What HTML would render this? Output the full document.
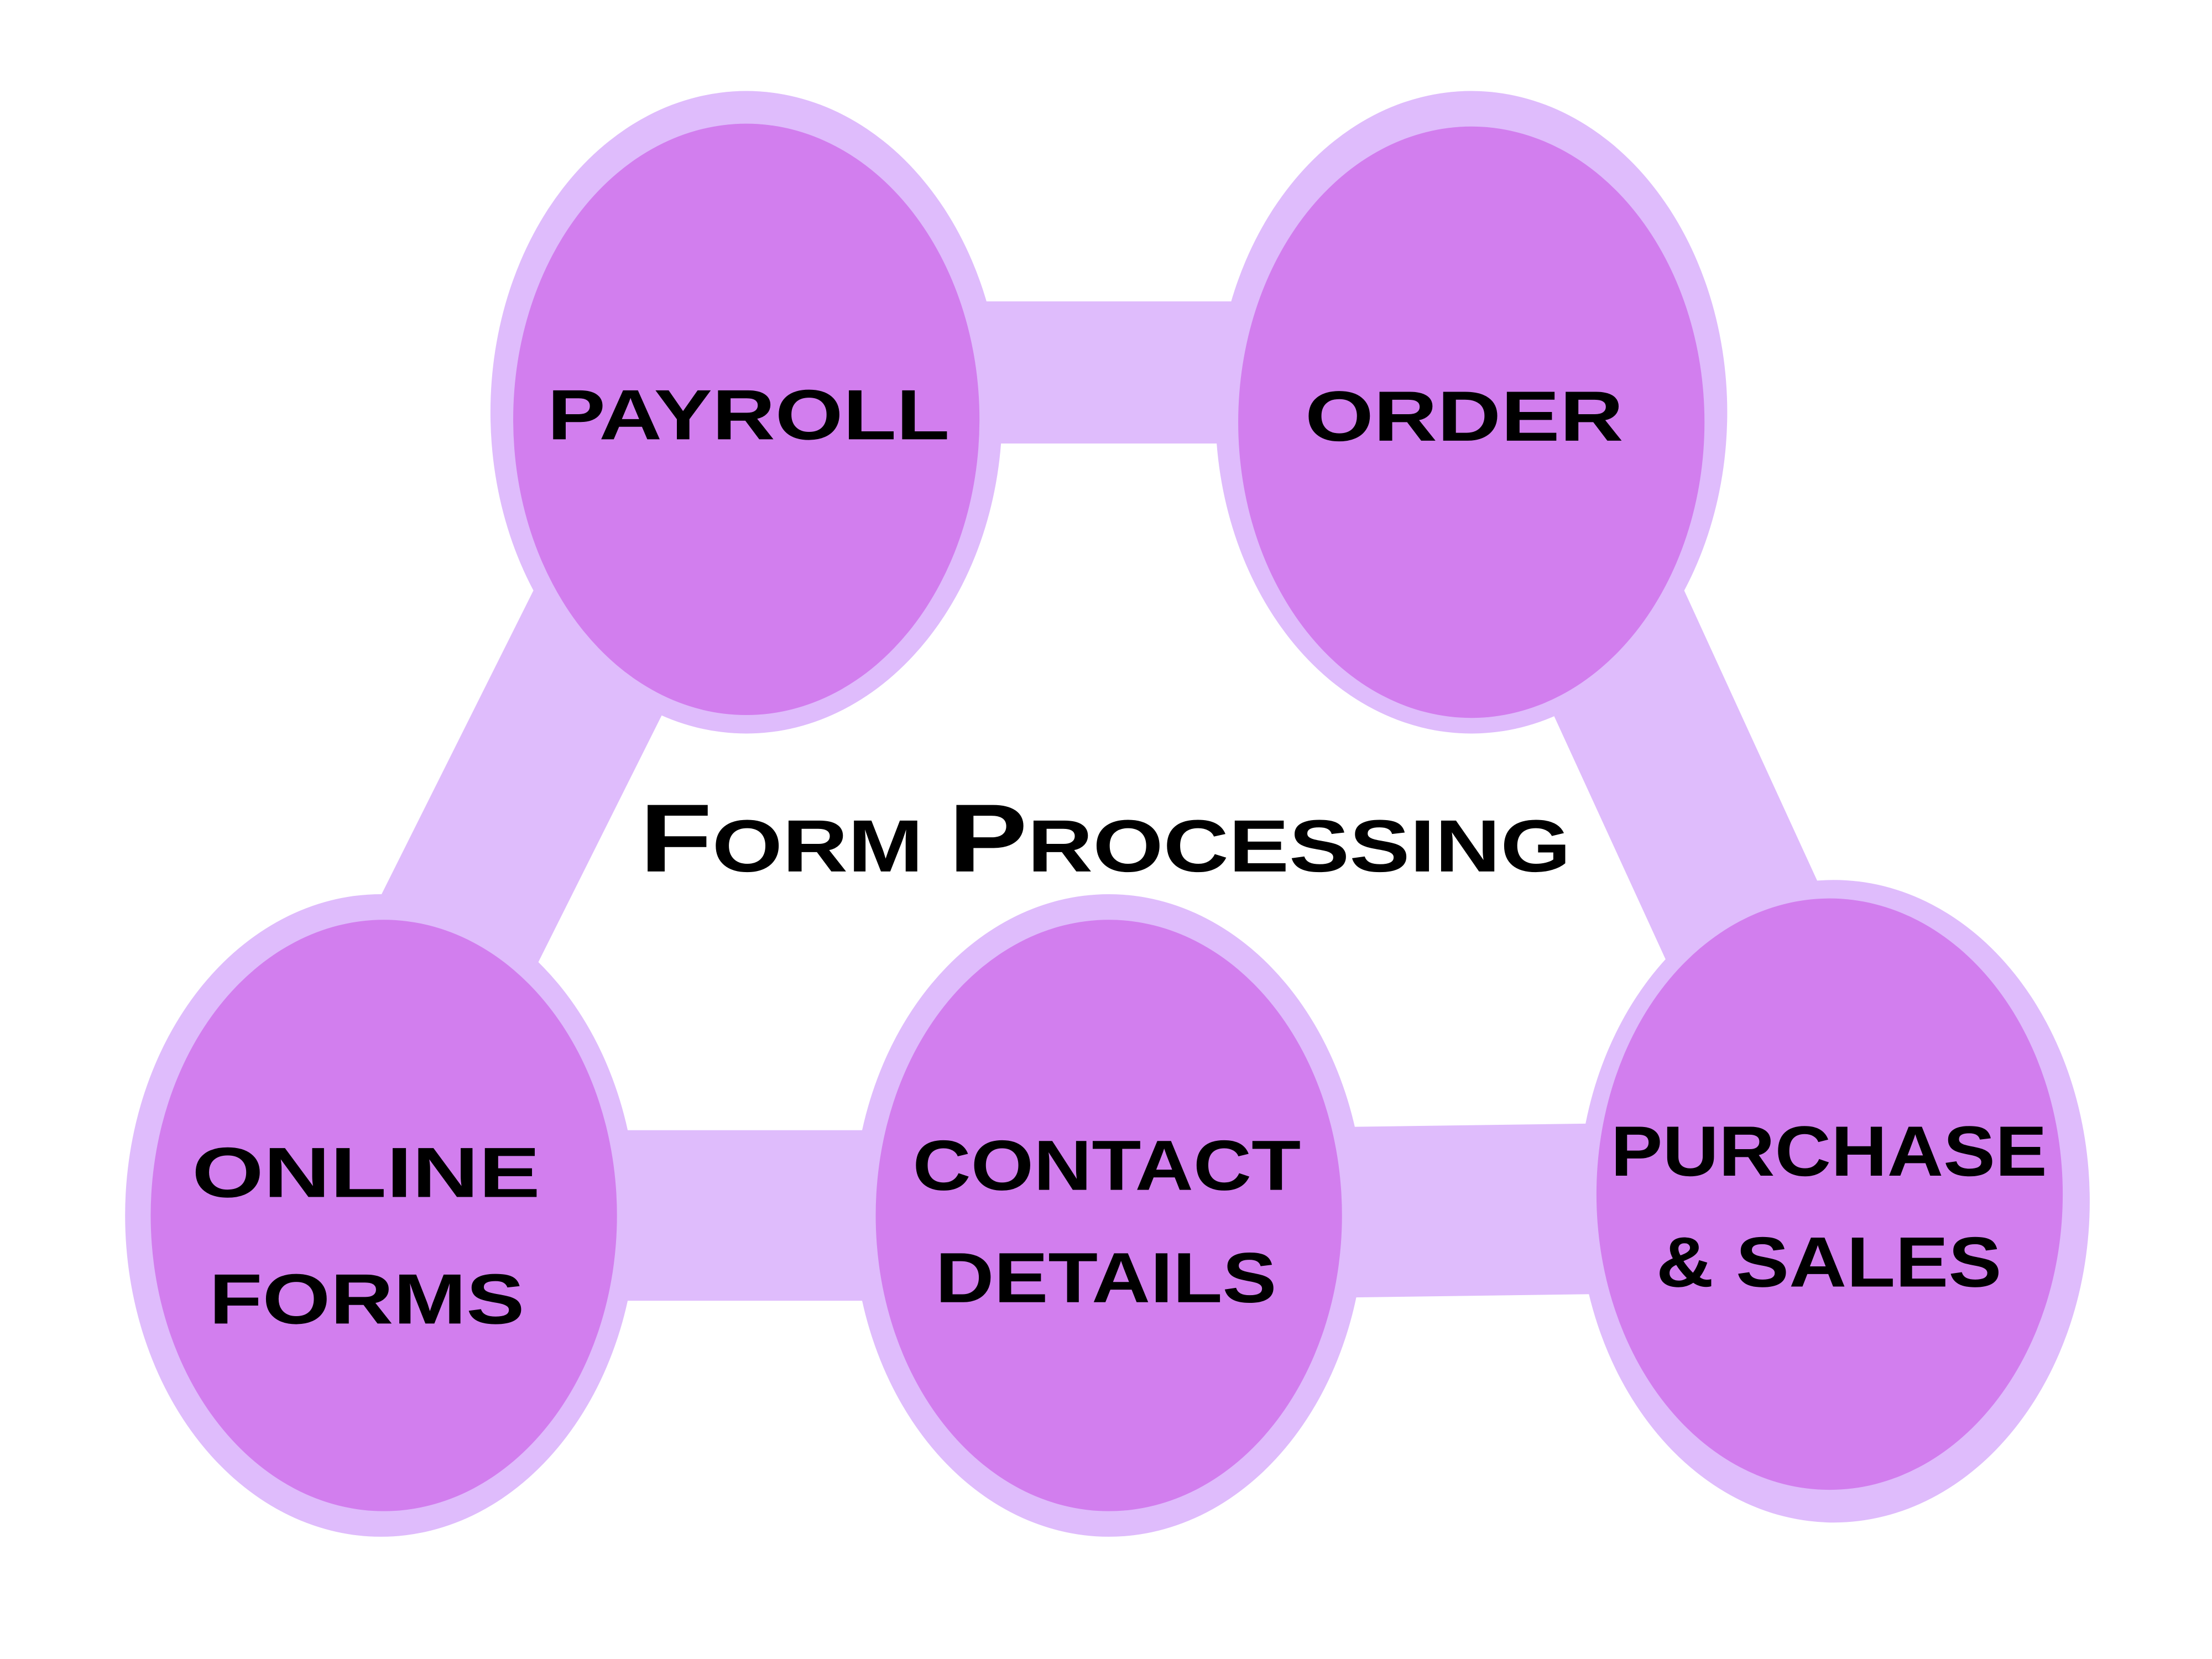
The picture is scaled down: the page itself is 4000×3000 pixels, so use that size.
<!DOCTYPE html>
<html><head><style>html,body{margin:0;padding:0;background:#fff}svg{display:block}</style></head>
<body>
<svg width="4000" height="3000" viewBox="0 0 1556 1167" preserveAspectRatio="none" xmlns="http://www.w3.org/2000/svg">
<rect width="1556" height="1167" fill="#fff"/>
<g stroke="#dfbcfc" stroke-linecap="round">
<line x1="525" y1="262" x2="1035" y2="262" stroke-width="100"/>
<line x1="430" y1="440" x2="300" y2="700" stroke-width="120"/>
<line x1="1130" y1="440" x2="1240" y2="680" stroke-width="120"/>
<line x1="270" y1="855" x2="780" y2="855" stroke-width="120"/>
<line x1="780" y1="855" x2="1290" y2="848" stroke-width="120"/>
</g>
<g fill="#dfbcfc">
<ellipse cx="525" cy="290" rx="180" ry="226"/>
<ellipse cx="1035" cy="290" rx="180" ry="226"/>
<ellipse cx="268" cy="855" rx="180" ry="226"/>
<ellipse cx="780" cy="855" rx="180" ry="226"/>
<ellipse cx="1290" cy="845" rx="180" ry="226"/>
</g>
<g fill="#d27eee">
<ellipse cx="525" cy="295" rx="164" ry="208"/>
<ellipse cx="1035" cy="297" rx="164" ry="208"/>
<ellipse cx="270" cy="855" rx="164" ry="208"/>
<ellipse cx="780" cy="855" rx="164" ry="208"/>
<ellipse cx="1287" cy="840" rx="164" ry="208"/>
</g>
<g font-family="'Liberation Sans',sans-serif" font-weight="bold" fill="#000" font-size="50" lengthAdjust="spacingAndGlyphs">
<text x="385" y="309" textLength="283" lengthAdjust="spacingAndGlyphs">PAYROLL</text>
<text x="918" y="310" textLength="224" lengthAdjust="spacingAndGlyphs">ORDER</text>
<text x="135" y="842" textLength="245" lengthAdjust="spacingAndGlyphs">ONLINE</text>
<text x="147" y="931" textLength="222" lengthAdjust="spacingAndGlyphs">FORMS</text>
<text x="642" y="837" textLength="273" lengthAdjust="spacingAndGlyphs">CONTACT</text>
<text x="658" y="916" textLength="240" lengthAdjust="spacingAndGlyphs">DETAILS</text>
<text x="1133" y="827" textLength="307" lengthAdjust="spacingAndGlyphs">PURCHASE</text>
<text x="1165" y="905" textLength="243" lengthAdjust="spacingAndGlyphs">&amp; SALES</text>
<text x="450" y="613" font-size="52" textLength="655" lengthAdjust="spacingAndGlyphs"><tspan font-size="68">F</tspan>ORM <tspan font-size="68">P</tspan>ROCESSING</text>
</g>
</svg>
</body></html>
